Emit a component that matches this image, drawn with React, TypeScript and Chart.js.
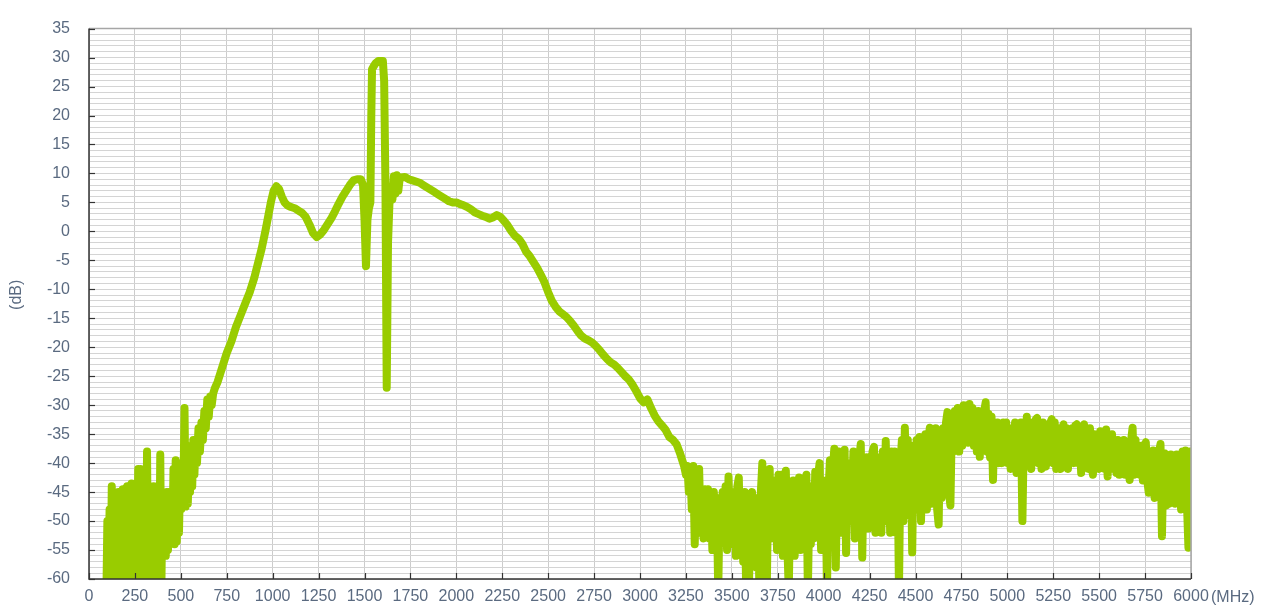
import React, { useEffect, useRef } from "react";
import { Chart, registerables } from "chart.js";

Chart.register(...registerables);

// ---- tick settings ----
const xTickStep = 250;
const yTickStep = 1;
const yLabelEvery = 5;
const xMin = 0;
const xMax = 6000;
const yMin = -60;
const yMax = 35;
const xUnit = "(MHz)";
const yUnit = "(dB)";

// ---- low-frequency noisy band: [MHz, dB] ----
const lowBand: [number, number][] = [
  [95, -62], [100, -50], [106, -62], [112, -48], [118, -62], [124, -44], [130, -60], [136, -46], [142, -62], [148, -47],
  [154, -60], [160, -45], [166, -62], [172, -46], [178, -60], [184, -44.5], [190, -62], [196, -45], [202, -60], [208, -44],
  [214, -62], [220, -45], [226, -58], [232, -43.5], [238, -62], [244, -44], [250, -60], [256, -43.5], [262, -62], [268, -41],
  [274, -60], [280, -41], [286, -62], [292, -46], [298, -60], [304, -44], [310, -62], [316, -38], [322, -62], [328, -44],
  [334, -60], [340, -45], [346, -62], [352, -44], [358, -62], [364, -46], [370, -58], [376, -44], [382, -62], [388, -38.5],
  [394, -62], [400, -45], [406, -55], [412, -46], [418, -56], [424, -45], [430, -55], [436, -45], [442, -54], [448, -46],
  [454, -53.5], [460, -41], [466, -54], [472, -39.5], [478, -53.5], [484, -40], [490, -52], [496, -42], [502, -48], [508, -41],
  [514, -45], [520, -30.5], [526, -47.5], [532, -38], [538, -47], [544, -40], [550, -45], [556, -37], [562, -44], [568, -36],
  [574, -42], [580, -36], [588, -40], [596, -34], [604, -38], [612, -33], [620, -36], [628, -31], [636, -34], [644, -29],
  [652, -32], [660, -28.5], [668, -30], [676, -28], [686, -27],
];

// ---- main passband ----
const mainFreq = [700, 725, 750, 775, 800, 825, 850, 875, 900, 920, 940, 960, 975, 990, 1005, 1020, 1035, 1050, 1065, 1080, 1100, 1120, 1140, 1160, 1180, 1200, 1220, 1240, 1260, 1280, 1300, 1320, 1340, 1360, 1380, 1400, 1420, 1440, 1460, 1480, 1492, 1500, 1508, 1516, 1524, 1532, 1537, 1541, 1550, 1560, 1575, 1600, 1607, 1614, 1621, 1628, 1636, 1645, 1652, 1660, 1668, 1676, 1684, 1692, 1700, 1720, 1740, 1760, 1780, 1800, 1820, 1840, 1860, 1880, 1900, 1920, 1940, 1960, 1980, 2000, 2020, 2040, 2060, 2080, 2100, 2120, 2140, 2160, 2180, 2200, 2220, 2240, 2260, 2280, 2300, 2320, 2340, 2360, 2380, 2400, 2420, 2440, 2460, 2480, 2500, 2520, 2540, 2560, 2580, 2600, 2620, 2640, 2660, 2680, 2700, 2720, 2740, 2760, 2780, 2800, 2820, 2840, 2860, 2880, 2900, 2920, 2940, 2960, 2980, 3000, 3020, 3040, 3060, 3080, 3100, 3120, 3140, 3160, 3180, 3200, 3220, 3240];
const mainDb = [-26, -23.5, -21, -19, -16.5, -14.5, -12.5, -10.5, -8, -5.5, -3, 0, 2.5, 5, 7, 7.8, 7.3, 6, 5, 4.5, 4.2, 4, 3.6, 3.2, 2.5, 1.2, -0.3, -1, -0.5, 0.3, 1.3, 2.3, 3.5, 4.8, 6, 7, 8, 8.8, 9, 9, 8, 2, -6, 2, 4, 5, 20, 28, 28.5, 29, 29.4, 29.4, 26, 8, -27, -2, 5, 6, 5.5, 9.5, 6.5, 9.7, 7, 9.2, 9.3, 9.4, 9, 8.8, 8.6, 8.4, 8, 7.6, 7.2, 6.8, 6.4, 6, 5.6, 5.2, 5, 5, 4.7, 4.5, 4.2, 3.8, 3.3, 3, 2.7, 2.5, 2.2, 2.4, 2.8, 2.5, 1.8, 1, 0, -0.8, -1.3, -2.2, -3.5, -4.3, -5.3, -6.3, -7.5, -8.8, -10.5, -12, -13, -13.8, -14.3, -14.8, -15.5, -16.3, -17.2, -18, -18.5, -18.8, -19.2, -19.8, -20.5, -21.3, -22, -22.6, -23, -23.6, -24.3, -25, -25.6, -26.5, -27.6, -28.8, -29.5, -29, -30.5, -31.8, -32.8, -33.5, -34.3, -35.5, -36, -36.8, -38.5, -40.5];

// ---- high-frequency noisy band: [MHz, dB] ----
const highBand: [number, number][] = [
  [3250, -42], [3258, -40.5], [3266, -45], [3274, -41], [3282, -48], [3290, -40.5], [3298, -54], [3306, -42], [3314, -50], [3322, -41],
  [3330, -52], [3338, -45], [3346, -53], [3354, -44.5], [3362, -51], [3370, -44.5], [3378, -53], [3386, -46], [3394, -55], [3402, -45],
  [3410, -52], [3418, -47], [3426, -62], [3434, -46], [3442, -54], [3450, -45], [3458, -52], [3466, -44], [3474, -55], [3482, -42.3],
  [3490, -51.5], [3498, -46], [3506, -54], [3514, -45], [3522, -56], [3530, -44], [3538, -42.5], [3546, -55.5], [3554, -46], [3562, -57],
  [3570, -45], [3578, -62], [3586, -48], [3594, -60], [3602, -46], [3610, -45], [3618, -55], [3626, -47], [3634, -58], [3642, -46],
  [3650, -62], [3658, -45], [3666, -40], [3674, -52], [3682, -43], [3690, -62], [3698, -45],
  [3706, -41], [3714, -53], [3722, -44], [3730, -52], [3738, -43], [3746, -55], [3754, -42], [3762, -53], [3770, -42], [3778, -56],
  [3786, -44], [3794, -41.3], [3802, -54], [3810, -62], [3818, -46], [3826, -52], [3834, -43], [3842, -56], [3850, -44], [3858, -53],
  [3866, -42.5], [3874, -55], [3882, -44], [3890, -52], [3898, -43], [3906, -42], [3914, -62], [3922, -47], [3930, -54], [3938, -44],
  [3946, -53], [3954, -41.5], [3962, -52], [3970, -42], [3978, -40], [3986, -55], [3994, -44], [4002, -52], [4010, -43], [4018, -62],
  [4026, -45], [4034, -39.5], [4042, -54], [4050, -41],
  [4058, -37.5], [4066, -58], [4074, -42], [4082, -38], [4090, -52], [4098, -41], [4106, -50], [4114, -37.7], [4122, -55.5], [4130, -41],
  [4138, -50], [4146, -40], [4154, -46.3], [4162, -38], [4170, -53], [4178, -41], [4186, -51], [4194, -39], [4202, -36.7], [4210, -56.3],
  [4218, -41], [4226, -50], [4234, -39], [4242, -51.3], [4250, -40], [4258, -49], [4266, -38], [4274, -37.2], [4282, -52], [4290, -40],
  [4298, -48], [4306, -39], [4314, -52], [4322, -38], [4330, -50], [4338, -36.2], [4346, -49], [4354, -39], [4362, -52], [4370, -38],
  [4378, -50], [4386, -38], [4394, -52], [4402, -39], [4410, -62], [4418, -40], [4426, -36], [4434, -50], [4442, -33.9], [4450, -47],
  [4458, -36], [4466, -49], [4474, -37], [4482, -55.4], [4490, -38], [4498, -48],
  [4506, -36], [4514, -47], [4522, -35.5], [4530, -50], [4538, -37], [4546, -46], [4554, -35], [4562, -48], [4570, -36], [4578, -33.9],
  [4586, -47], [4594, -35], [4602, -45], [4610, -34], [4618, -48], [4626, -50.6], [4634, -35], [4642, -46], [4650, -34], [4658, -44],
  [4666, -33], [4674, -31.2], [4682, -45], [4690, -47.3], [4698, -33],
  [4706, -38], [4714, -31], [4722, -37], [4730, -30.5], [4738, -38], [4746, -30.5], [4754, -37], [4762, -30], [4770, -36], [4778, -30],
  [4786, -36.5], [4794, -29.8], [4802, -35], [4810, -30.5], [4818, -37], [4826, -31], [4834, -38], [4842, -31], [4850, -38.9], [4858, -32],
  [4866, -37], [4874, -31], [4882, -29.5], [4890, -38], [4898, -31.5], [4906, -39], [4914, -32], [4922, -42.9], [4930, -33], [4938, -39],
  [4946, -33],
  [4954, -40], [4962, -33.5], [4970, -40], [4978, -33], [4986, -39], [4994, -33], [5002, -40], [5010, -34], [5018, -41], [5026, -34],
  [5034, -40], [5042, -33], [5050, -41.7], [5058, -34], [5066, -40], [5074, -33], [5082, -50], [5090, -35], [5098, -40], [5106, -32],
  [5114, -39], [5122, -33], [5130, -41], [5138, -33], [5146, -39], [5154, -32.5], [5162, -32.2], [5170, -40], [5178, -34], [5186, -41],
  [5194, -33], [5202, -40], [5210, -40.6], [5218, -34], [5226, -39], [5234, -33], [5242, -32.4], [5250, -40], [5258, -33], [5266, -41],
  [5274, -34], [5282, -40], [5290, -41], [5298, -34], [5306, -33.3], [5314, -40], [5322, -34], [5330, -41], [5338, -35], [5346, -39],
  [5354, -34], [5362, -40], [5370, -33.5], [5378, -33.3], [5386, -40], [5394, -35], [5402, -41.7], [5410, -34], [5418, -33.3], [5426, -40],
  [5434, -34], [5442, -41], [5450, -34], [5458, -40], [5466, -42], [5474, -35], [5482, -40], [5490, -35], [5498, -41], [5506, -34.5],
  [5514, -40], [5522, -35], [5530, -41], [5538, -34.2], [5546, -42.3], [5554, -35], [5562, -40], [5570, -35], [5578, -41], [5586, -36.4],
  [5594, -41.7],
  [5602, -36], [5610, -42], [5618, -37], [5626, -41], [5634, -36], [5642, -42], [5650, -37], [5658, -41], [5666, -42.9], [5674, -36],
  [5682, -33.9], [5690, -42], [5698, -36], [5706, -41], [5714, -37], [5722, -42], [5730, -37], [5738, -43], [5746, -37], [5754, -36.4],
  [5762, -43], [5770, -45.1], [5778, -38], [5786, -44], [5794, -37.8],
  [5802, -46], [5810, -39], [5818, -45], [5826, -38], [5834, -36.7], [5842, -52.6], [5850, -39], [5858, -38.3], [5866, -47.3], [5874, -39],
  [5882, -47], [5890, -38.5], [5898, -46], [5906, -39], [5914, -47], [5922, -38.5], [5930, -46], [5938, -39], [5946, -48], [5954, -38],
  [5962, -46], [5970, -37.8], [5978, -47], [5986, -54.6], [5994, -38], [6000, -38],
];

const FONT = "'Liberation Sans', Arial, sans-serif";
const TEXT_COLOR = "#5a6a80";
const LINE_COLOR = "#99cc00";

const decorPlugin = {
  id: "decor",
  afterDraw(chart: any) {
    const { ctx, chartArea, scales } = chart;
    const { left, right, top, bottom } = chartArea;
    ctx.save();
    ctx.strokeStyle = "#a6a6a6";
    ctx.lineWidth = 1.5;
    ctx.beginPath();
    ctx.moveTo(left, top);
    ctx.lineTo(right, top);
    ctx.lineTo(right, bottom);
    ctx.stroke();
    ctx.strokeStyle = "#333333";
    ctx.lineWidth = 1.5;
    ctx.beginPath();
    ctx.moveTo(left, top);
    ctx.lineTo(left, bottom);
    ctx.lineTo(right, bottom);
    ctx.stroke();
    ctx.lineWidth = 1.2;
    for (let v = yMin; v <= yMax; v += yLabelEvery) {
      const y = Math.round(scales.y.getPixelForValue(v)) + 0.5;
      ctx.beginPath();
      ctx.moveTo(left, y);
      ctx.lineTo(left + 6, y);
      ctx.stroke();
    }
    for (let v = xMin; v <= xMax; v += xTickStep) {
      const x = Math.round(scales.x.getPixelForValue(v)) + 0.5;
      ctx.beginPath();
      ctx.moveTo(x, bottom);
      ctx.lineTo(x, bottom - 6);
      ctx.stroke();
    }
    ctx.fillStyle = TEXT_COLOR;
    ctx.font = `16px ${FONT}`;
    ctx.textAlign = "left";
    ctx.textBaseline = "middle";
    ctx.fillText(xUnit, right + 20, bottom + 19);
    ctx.translate(17, (top + bottom) / 2 - 9);
    ctx.rotate(-Math.PI / 2);
    ctx.textAlign = "center";
    ctx.fillText(yUnit, 0, 0);
    ctx.restore();
  },
};

export default function App() {
  const canvasRef = useRef<HTMLCanvasElement | null>(null);

  useEffect(() => {
    const canvas = canvasRef.current;
    if (!canvas) return;
    const points = [
      ...lowBand.map(([f, d]) => ({ x: f, y: d })),
      ...mainFreq.map((f, i) => ({ x: f, y: mainDb[i] })),
      ...highBand.map(([f, d]) => ({ x: f, y: d })),
    ];

    const chart = new Chart(canvas, {
      type: "line",
      data: {
        datasets: [
          {
            data: points,
            borderColor: LINE_COLOR,
            backgroundColor: LINE_COLOR,
            borderWidth: 8,
            pointRadius: 0,
            tension: 0,
            borderJoinStyle: "round",
            borderCapStyle: "round",
            clip: 0,
          } as any,
        ],
      },
      options: {
        animation: false,
        responsive: false,
        devicePixelRatio: 1,
        layout: { padding: { left: 0, right: 79, top: 12, bottom: 0 } },
        plugins: {
          legend: { display: false },
          tooltip: { enabled: false },
        },
        scales: {
          x: {
            type: "linear",
            min: xMin,
            max: xMax,
            border: { display: false },
            grid: { color: "#cccccc", lineWidth: 1, drawTicks: false },
            ticks: {
              stepSize: xTickStep,
              autoSkip: false,
              maxRotation: 0,
              padding: 8,
              color: TEXT_COLOR,
              font: { size: 16, family: FONT },
              callback: (v: any) => String(v),
            },
            afterFit(scale: any) {
              scale.height = 32;
            },
          },
          y: {
            type: "linear",
            min: yMin,
            max: yMax,
            border: { display: false },
            grid: { color: "#d4d4d4", lineWidth: 1, drawTicks: false },
            ticks: {
              stepSize: yTickStep,
              autoSkip: false,
              padding: 19,
              color: TEXT_COLOR,
              font: { size: 16, family: FONT },
              callback: (v: any) => (Number(v) % yLabelEvery === 0 ? String(v) : ""),
            },
            afterFit(scale: any) {
              scale.width = 89;
            },
          },
        },
      },
      plugins: [decorPlugin],
    });
    return () => chart.destroy();
  }, []);

  return (
    <div style={{ position: "absolute", left: 0, top: 0, width: 1270, height: 611, background: "#ffffff" }}>
      <canvas ref={canvasRef} width={1270} height={611} />
    </div>
  );
}
